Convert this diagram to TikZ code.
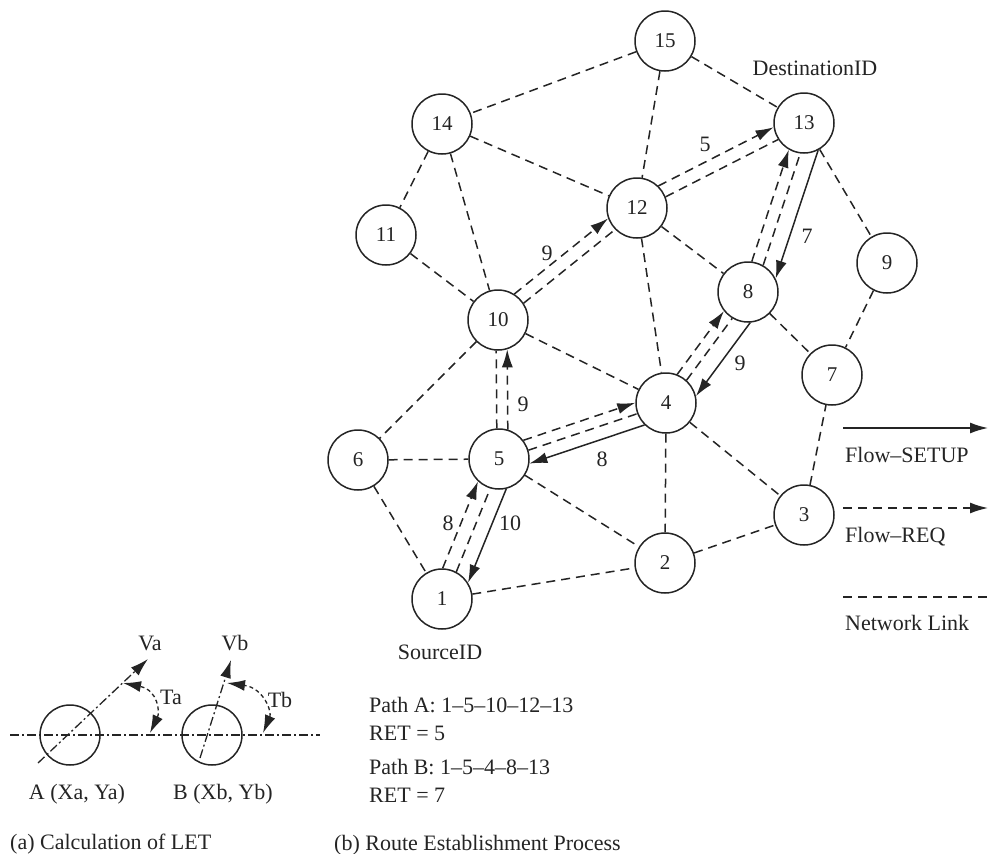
\documentclass[tikz,border=0pt]{standalone}
\usepackage{fontspec}
\setmainfont{Liberation Serif}
\usetikzlibrary{arrows.meta,calc}

\definecolor{ink}{gray}{0.14}

% link between two hosts, shifted sideways by #4 (pt, positive = left of #2->#3)
\newcommand\netedge[4]{%
  \pgfmathsetmacro\edgecut{sqrt(30.7*30.7-(#4)*(#4))}%
  \draw[#1, shorten <=\edgecut pt, shorten >=\edgecut pt]
    ($(#2)!#4pt!90:(#3)$) -- ($(#3)!#4pt!-90:(#2)$);}

\tikzset{
  bigtip/.tip={Latex[length=18pt,width=11pt]},
  host/.style={circle, draw=ink, line width=1.5pt, minimum size=60pt, inner sep=0pt,
    text=ink, font=\fontsize{21}{24}\selectfont},
  link/.style={draw=ink, line width=1.5pt, dash pattern=on 9pt off 6pt},
  req/.style={link, -bigtip},
  setupback/.style={draw=ink, line width=1.5pt, bigtip-},
  setupfwd/.style={draw=ink, line width=1.5pt, -bigtip},
  lbl/.style={anchor=base, inner sep=0pt, text=ink, font=\fontsize{22}{26}\selectfont},
  lblw/.style={lbl, anchor=base west},
  dashdot/.style={draw=ink, line width=1.3pt, dash pattern=on 9pt off 3pt on 2pt off 3pt},
  angarc/.style={draw=ink, line width=1.3pt, dash pattern=on 4pt off 3pt, bigtip-bigtip},
  mobile/.style={circle, draw=ink, line width=1.5pt, minimum size=60pt, inner sep=0pt}
}

\begin{document}
\begin{tikzpicture}[x=1pt,y=-1pt]
\useasboundingbox (0,0) rectangle (988,854);

% ---------------- (b) network ----------------
\node[host] (n1)  at (442,599) {1};
\node[host] (n2)  at (665,563) {2};
\node[host] (n3)  at (804,515) {3};
\node[host] (n4)  at (666,403) {4};
\node[host] (n5)  at (499,459) {5};
\node[host] (n6)  at (358,460) {6};
\node[host] (n7)  at (832,375) {7};
\node[host] (n8)  at (748,292) {8};
\node[host] (n9)  at (887,263) {9};
\node[host] (n10) at (498,320) {10};
\node[host] (n11) at (386,235) {11};
\node[host] (n12) at (637,208) {12};
\node[host] (n13) at (804,123) {13};
\node[host] (n14) at (442,124) {14};
\node[host] (n15) at (665,41)  {15};

% plain network links
\netedge{link}{n15}{n14}{0}
\netedge{link}{n15}{n12}{0}
\netedge{link}{n15}{n13}{0}
\netedge{link}{n14}{n11}{0}
\netedge{link}{n14}{n12}{0}
\netedge{link}{n14}{n10}{0}
\netedge{link}{n11}{n10}{0}
\netedge{link}{n10}{n6}{0}
\netedge{link}{n10}{n4}{0}
\netedge{link}{n12}{n4}{0}
\netedge{link}{n12}{n8}{0}
\netedge{link}{n13}{n9}{0}
\netedge{link}{n8}{n7}{0}
\netedge{link}{n9}{n7}{0}
\netedge{link}{n6}{n5}{0}
\netedge{link}{n6}{n1}{0}
\netedge{link}{n5}{n2}{0}
\netedge{link}{n4}{n2}{0}
\netedge{link}{n4}{n3}{0}
\netedge{link}{n1}{n2}{0}
\netedge{link}{n2}{n3}{0}
\netedge{link}{n3}{n7}{0}

% links that also carry flow messages
\netedge{link}{n1}{n5}{-3}
\netedge{link}{n5}{n4}{-1}
\netedge{link}{n4}{n8}{-3}
\netedge{link}{n8}{n13}{-6}
\netedge{link}{n5}{n10}{2}
\netedge{link}{n10}{n12}{-3}
\netedge{link}{n12}{n13}{-3}

% Flow-REQ messages
\netedge{req}{n1}{n5}{11}
\netedge{req}{n5}{n4}{10}
\netedge{req}{n4}{n8}{8}
\netedge{req}{n8}{n13}{6}
\netedge{req}{n5}{n10}{-9}
\netedge{req}{n10}{n12}{10}
\netedge{req}{n12}{n13}{10}

% Flow-SETUP messages (travelling back towards the source)
\netedge{setupback}{n1}{n5}{-18}
\netedge{setupback}{n5}{n4}{-14}
\netedge{setupback}{n4}{n8}{-20}
\netedge{setupback}{n8}{n13}{-22}

% link expiration values
\node[lbl] (t1) at (448,530) {8};
\node[lbl] (t2) at (510,530) {10};
\node[lbl] (t3) at (523,411) {9};
\node[lbl] (t4) at (602,466) {8};
\node[lbl] (t5) at (740,370) {9};
\node[lbl] (t6) at (807,243) {7};
\node[lbl] (t7) at (705,151) {5};
\node[lbl] (t8) at (547,260) {9};

\node[lbl] (src) at (440,659) {SourceID};
\node[lbl] (dst) at (815,75) {DestinationID};

% legend
\coordinate (ls1) at (843,428); \coordinate (le1) at (988,428);
\coordinate (ls2) at (843,508); \coordinate (le2) at (988,508);
\coordinate (ls3) at (843,597); \coordinate (le3) at (988,597);
\draw[setupfwd] (ls1) -- (le1);
\draw[req] (ls2) -- (le2);
\draw[link] (ls3) -- (le3);
\node[lblw] (g1) at (845,462) {Flow--SETUP};
\node[lblw] (g2) at (845,542) {Flow--REQ};
\node[lblw] (g3) at (845,630) {Network Link};

% paths
\node[lblw] (p1) at (369,712) {Path A: 1--5--10--12--13};
\node[lblw] (p2) at (369,740) {RET = 5};
\node[lblw] (p3) at (369,774) {Path B: 1--5--4--8--13};
\node[lblw] (p4) at (369,802) {RET = 7};
\node[lblw] (capb) at (334,850) {(b) Route Establishment Process};

% ---------------- (a) LET ----------------
\coordinate (axl) at (10,735); \coordinate (axr) at (320,735);
\draw[dashdot] (axl) -- (axr);
\node[mobile] (ma) at (70,735) {};
\node[mobile] (mb) at (212,735) {};

\coordinate (vat) at (38,763); \coordinate (vah) at (148,659);
\coordinate (vbt) at (200,758); \coordinate (vbh) at (231,660);
\draw[dashdot, -bigtip] (vat) -- (vah);
\draw[dashdot, -bigtip] (vbt) -- (vbh);

\coordinate (ta1) at (150,733); \coordinate (ta2) at (123,683);
\coordinate (tb1) at (263,733); \coordinate (tb2) at (227,683);
\draw[angarc] (ta1) .. controls (160,712) and (158,690) .. (ta2);
\draw[angarc] (tb1) .. controls (272,712) and (264,688) .. (tb2);

\node[lbl] (va) at (150,650) {Va};
\node[lbl] (vb) at (235,650) {Vb};
\node[lbl] (ta) at (171,704) {Ta};
\node[lbl] (tb) at (280,707) {Tb};
\node[lbl] (pa) at (77,799) {A (Xa, Ya)};
\node[lbl] (pb) at (223,799) {B (Xb, Yb)};
\node[lblw] (capa) at (10,849) {(a) Calculation of LET};
\end{tikzpicture}
\end{document}
